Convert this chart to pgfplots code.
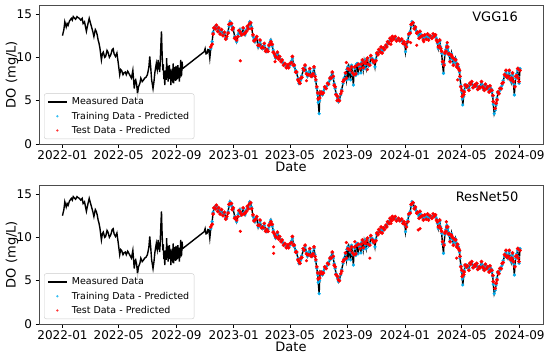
\documentclass[border=0pt]{standalone}
\usepackage{fontspec}
\setmainfont{DejaVu Sans}
\usepackage{pgfplots}
\pgfplotsset{compat=1.18}
\usepackage{pgfplotstable}

% days since 2022-01-01, DO (mg/L)
\pgfplotstableread{
d v
0 12.5
3 13.2
5 14.1
8 13.5
10 13.9
12 13.7
15 14.2
19 14.5
21 14.3
23 14.7
26 14.5
28 14.4
31 14.7
33 14.6
36 14.5
39 14.3
42 14.5
44 13.9
47 14.1
51 13.0
54 13.8
57 14.5
60 13.9
62 13.5
65 12.9
67 12.4
70 13.2
72 13.0
74 12.6
76 12.0
78 11.6
80 11.0
83 9.7
85 10.4
87 10.6
90 10.0
92 10.1
95 10.8
97 10.6
100 10.0
103 10.3
106 10.9
108 11.0
110 10.4
113 10.1
116 10.5
119 9.3
122 8.0
124 8.6
126 8.5
129 8.0
131 8.2
134 8.3
136 8.0
139 8.4
141 8.2
144 7.9
147 7.6
150 8.5
153 6.4
155 7.3
156 7.4
158 6.9
160 5.8
162 6.6
165 7.0
167 7.6
170 7.2
173 7.4
175 7.6
178 7.7
181 8.0
184 8.8
186 10.1
188 8.9
190 7.4
193 6.4
195 7.2
197 8.3
200 9.3
202 8.6
204 9.7
205 8.6
206 9.2
207 8.3
208 9.0
209 10.5
210 11.8
211 13.0
212 11.0
213 9.5
214 8.5
215 9.2
216 7.5
217 8.4
218 6.8
219 8.0
220 8.5
221 7.4
222 9.9
223 8.0
224 9.0
225 7.2
226 8.8
227 7.6
228 9.1
229 7.5
230 8.6
231 6.8
232 8.2
233 7.3
234 8.7
235 7.1
236 9.3
237 7.0
238 8.5
239 7.6
240 8.9
241 7.3
242 9.0
243 7.4
244 8.6
245 7.5
246 9.1
247 7.6
248 8.8
249 7.2
250 8.4
251 7.8
252 9.7
253 7.9
254 8.0
255 9.5
256 8.7
302 10.65
304 11.0
306 10.4
308 10.45
310 10.9
312 10.85
314 9.9
316 11.0
319 11.8
321 12.9
323 13.3
326 13.6
328 13.5
331 13.2
333 13.2
336 12.9
339 13.0
342 12.7
345 12.8
348 12.3
350 12.2
353 13.0
355 13.6
357 14.1
360 13.7
362 13.4
364 13.2
367 12.4
369 12.1
371 11.8
374 12.6
376 12.9
378 13.2
380 12.6
382 12.8
385 13.3
387 12.9
389 12.6
392 13.2
394 13.4
396 13.5
399 14.1
401 13.9
403 13.5
406 12.4
408 12.1
410 11.8
412 12.3
414 12.2
417 11.2
419 11.6
421 11.8
424 11.3
426 11.0
428 11.3
430 11.4
433 10.9
435 10.65
438 10.9
440 11.2
442 11.7
444 12.0
447 11.3
449 10.85
452 10.2
454 9.9
456 10.2
458 10.45
461 10.0
463 9.9
466 9.7
468 9.5
471 9.3
474 9.1
477 9.0
480 8.9
482 9.0
485 9.1
488 9.6
490 9.9
492 9.3
494 8.9
497 8.5
499 8.15
502 7.6
504 7.0
506 7.2
508 7.4
510 7.9
513 8.5
515 8.7
517 8.9
520 8.3
522 7.8
525 8.2
527 8.5
530 8.0
532 7.8
534 8.3
536 8.7
538 8.0
540 7.2
542 6.4
544 5.65
545 4.8
547 3.5
548 5.0
549 6.0
551 5.8
554 5.65
556 6.1
559 6.4
562 6.6
565 6.8
567 7.1
570 7.4
572 7.8
575 8.15
577 7.6
579 7.0
581 6.4
583 5.85
586 5.3
588 4.9
590 5.2
593 5.65
595 6.3
598 7.0
600 7.6
603 8.0
605 7.4
606 8.6
608 8.9
609 7.5
611 8.8
613 8.3
614 7.4
616 9.1
618 8.0
620 6.8
621 8.2
623 8.7
625 7.9
626 9.2
628 9.3
630 8.1
631 9.0
634 8.9
636 8.2
637 9.4
639 9.5
641 8.6
643 9.6
645 9.1
647 8.7
648 9.8
650 9.7
652 9.0
655 9.3
657 10.0
660 9.9
662 9.4
664 9.6
666 8.9
668 9.8
670 10.3
672 10.5
674 10.65
677 10.8
679 11.0
681 10.7
684 10.85
686 11.1
689 11.2
691 11.4
693 11.6
696 11.8
698 12.0
701 12.1
703 12.2
706 12.3
709 12.2
712 12.1
716 12.0
719 12.1
723 11.9
726 11.8
728 11.6
730 11.3
731 10.65
733 11.4
736 12.0
738 12.5
741 13.0
743 13.6
745 14.1
747 13.9
750 13.5
752 13.3
755 13.0
757 12.7
760 12.4
762 12.8
764 12.6
767 12.3
769 12.2
772 12.4
775 12.3
778 12.5
780 12.2
783 12.3
787 12.4
790 12.5
792 12.6
795 12.4
797 12.2
799 11.6
801 11.0
803 11.5
804 11.8
806 11.2
808 10.45
810 9.2
812 8.15
813 9.3
815 10.3
817 10.9
819 11.4
821 11.0
822 10.65
824 10.2
826 9.7
828 10.1
829 10.45
831 9.8
833 9.3
835 9.6
837 9.9
838 9.5
840 9.1
842 9.0
844 8.9
846 8.3
847 7.6
849 6.8
851 6.0
852 5.2
853 4.5
855 5.5
856 6.2
858 6.6
861 6.8
863 6.5
866 6.4
868 6.8
870 7.1
872 7.0
875 6.7
878 6.6
880 6.9
883 6.8
885 6.5
888 6.4
890 6.7
893 7.0
895 6.8
897 6.3
899 6.4
901 6.7
904 6.6
906 6.4
909 6.2
911 6.5
913 6.4
915 6.0
917 5.45
918 4.6
920 3.5
922 3.9
924 4.5
926 5.3
928 5.85
930 6.0
932 6.2
935 6.6
937 6.8
939 7.3
942 7.8
944 8.1
945 8.3
947 7.9
949 7.6
950 8.0
952 8.3
954 7.7
956 7.2
957 7.8
959 8.0
961 7.0
963 5.65
964 6.8
966 7.6
968 8.1
970 8.5
971 7.8
973 7.0
975 8.7
}\meas

% test-set predictions (shared shape)
\pgfplotstableread{
d v
316 11.2
319 11.5
321 12.7
323 13.4
326 13.3
328 13.7
331 13.0
333 13.4
336 12.7
339 13.2
342 12.5
345 12.9
348 12.1
350 12.4
353 12.8
355 13.8
357 13.9
360 13.9
362 13.2
364 13.4
367 12.2
369 12.3
371 12.0
374 12.4
376 13.1
378 13.0
380 12.8
382 12.6
385 13.4
387 12.7
389 12.8
392 13.0
394 13.6
396 13.3
399 13.9
401 14.0
403 13.3
406 12.6
408 11.9
410 12.0
412 12.1
414 12.4
417 11.4
419 11.4
421 12.0
424 11.1
426 11.2
428 11.1
430 11.6
433 10.7
435 10.9
438 10.7
440 11.4
442 11.5
444 11.8
447 11.5
449 10.6
452 10.4
454 10.1
456 10.0
458 10.6
461 9.8
463 10.1
466 9.5
468 9.7
471 9.1
474 9.3
477 8.8
480 9.1
482 8.8
485 9.3
488 9.4
490 10.1
492 9.1
494 9.1
497 8.3
499 8.3
502 7.4
504 7.2
506 7.0
508 7.6
510 7.7
513 8.7
515 8.5
517 9.1
520 8.1
522 8.0
525 8.0
527 8.7
530 7.8
532 8.0
534 8.1
536 8.9
538 7.8
540 7.4
542 6.6
544 5.9
545 5.2
548 5.3
549 5.8
551 6.0
554 5.8
556 5.9
559 6.6
562 6.4
565 7.0
567 6.9
570 7.6
572 7.6
575 8.3
577 7.8
579 6.8
581 6.6
583 5.7
586 5.5
588 5.1
590 5.0
593 5.8
595 6.1
598 7.2
600 7.4
603 8.2
605 7.6
608 8.7
611 8.6
613 8.5
616 8.9
618 8.2
621 8.0
623 8.9
625 8.1
628 9.1
631 9.2
634 8.7
637 9.2
639 9.7
641 8.8
643 9.4
645 9.3
648 9.6
650 9.9
652 9.2
655 9.1
657 10.2
660 9.7
662 9.6
664 9.4
668 9.6
670 10.5
672 10.3
674 10.9
677 10.6
679 11.2
681 10.5
684 11.1
686 10.9
689 11.4
691 11.2
693 11.8
696 11.6
698 12.2
701 11.9
703 12.4
706 12.1
709 12.4
712 11.9
716 12.2
719 11.9
723 12.1
726 11.6
728 11.8
730 11.5
733 11.2
736 11.8
738 12.7
741 12.8
743 13.8
745 13.9
747 14.0
750 13.3
752 13.5
755 12.8
757 12.9
760 12.2
762 13.0
764 12.4
767 12.5
769 12.0
772 12.6
775 12.1
778 12.7
780 12.0
783 12.5
787 12.2
790 12.7
792 12.4
795 12.6
797 12.0
799 11.8
801 11.2
803 11.3
804 12.0
806 11.0
808 10.7
810 9.5
813 9.1
815 10.5
817 10.7
819 11.2
821 11.2
822 10.4
824 10.4
826 9.5
828 10.3
829 10.2
831 10.0
833 9.1
835 9.8
837 9.7
838 9.7
840 8.9
842 9.2
844 8.7
846 8.5
847 7.8
849 6.6
851 6.2
852 5.5
855 5.7
856 6.0
858 6.8
861 6.6
863 6.7
866 6.2
868 7.0
870 6.9
872 7.2
875 6.5
878 6.8
880 6.7
883 7.0
885 6.3
888 6.6
890 6.5
893 7.2
895 6.6
897 6.5
899 6.2
901 6.9
904 6.4
906 6.6
909 6.0
911 6.7
913 6.2
915 6.2
917 5.6
918 4.9
922 4.1
924 4.7
926 5.1
928 6.0
930 5.8
932 6.4
935 6.4
937 7.0
939 7.1
942 8.0
944 7.9
945 8.5
947 7.7
949 7.8
950 7.8
952 8.5
954 7.5
956 7.4
957 7.6
959 8.2
961 7.2
964 6.6
966 7.8
968 7.9
970 8.7
971 7.6
973 7.2
975 8.5
}\test

\pgfplotstableread{
d v
379 9.6
453 9.5
520 7.3
585 5.0
605 9.4
650 8.6
700 11.5
742 11.7
755 11.4
770 11.8
812 9.5
820 11.7
842 7.4
}\outA

\pgfplotstableread{
d v
379 10.7
450 8.9
450 8.15
520 7.3
605 9.4
623 9.5
655 7.6
700 11.6
758 10.85
762 11.0
818 11.8
840 7.6
}\outB

\pgfplotsset{
  lgline/.style={legend image code/.code={\draw[black, line width=1.3pt] (0pt,0pt) -- (19pt,0pt); \path[draw=none,fill=none] (0pt,0pt) -- (22pt,0pt);}},
  lgcyan/.style={legend image code/.code={\fill[cyan, draw=none] (9.5pt,0pt) circle (1.3pt); \path[draw=none,fill=none] (0pt,0pt) -- (22pt,0pt);}},
  lgred/.style={legend image code/.code={\fill[red, draw=none] (9.5pt,0pt) circle (1.3pt); \path[draw=none,fill=none] (0pt,0pt) -- (22pt,0pt);}},
  panel/.style={
  width=504pt, height=139pt, scale only axis,
  xmin=-50, xmax=1024, ymin=0, ymax=16.04,
  xtick={0,120,243,365,485,608,730,851,974},
  xticklabels={2022-01,2022-05,2022-09,2023-01,2023-05,2023-09,2024-01,2024-05,2024-09},
  ytick={0,5,10,15},
  tick pos=left, tick align=outside, major tick length=3.5pt,
  tick style={black, line width=0.8pt},
  axis line style={black!70, line width=0.8pt},
  ticklabel style={font=\fontsize{12}{13}\selectfont},
  /pgf/number format/assume math mode=true,
  xlabel=Date, ylabel={DO (mg/L)},
  label style={font=\fontsize{13}{14}\selectfont},
  xlabel style={at={(axis description cs:0.5,-0.165)}, anchor=center},
  ylabel style={at={(axis description cs:-0.0536,0.5)}, anchor=center},
  legend cell align=left,
  legend style={at={(axis description cs:0.01,0.036)}, anchor=south west,
    font=\fontsize{9.5}{11}\selectfont, draw=black!20, rounded corners=2pt,
    fill=white, fill opacity=0.8, text opacity=1, row sep=1.5pt,
    inner xsep=3pt, inner ysep=2pt},
}}

\begin{document}
\begin{tikzpicture}
\begin{axis}[panel, name=top, at={(0,0)}, anchor=north west]
\addlegendimage{lgline}
\addlegendentry{Measured Data}
\addlegendimage{lgcyan}
\addlegendentry{Training Data - Predicted}
\addlegendimage{lgred}
\addlegendentry{Test Data - Predicted}
\addplot[only marks, mark=*, mark size=1.4pt, cyan, restrict x to domain=316:1000, forget plot] table[x=d,y=v]{\meas};
\addplot[only marks, mark=*, mark size=1.7pt, red, forget plot] table[x=d,y=v]{\test};
\addplot[only marks, mark=*, mark size=1.4pt, red, forget plot] table[x=d,y=v]{\outA};
\addplot[black, line width=1.4pt, forget plot] table[x=d,y=v]{\meas};
\node[font=\fontsize{13}{14}\selectfont] at (rel axis cs:0.905,0.914) {VGG16};
\end{axis}
\begin{axis}[panel, name=bot, at={(0,-180pt)}, anchor=north west]
\addlegendimage{lgline}
\addlegendentry{Measured Data}
\addlegendimage{lgcyan}
\addlegendentry{Training Data - Predicted}
\addlegendimage{lgred}
\addlegendentry{Test Data - Predicted}
\addplot[only marks, mark=*, mark size=1.4pt, cyan, restrict x to domain=316:1000, forget plot] table[x=d,y=v]{\meas};
\addplot[only marks, mark=*, mark size=1.7pt, red, forget plot] table[x=d,y=v]{\test};
\addplot[only marks, mark=*, mark size=1.4pt, red, forget plot] table[x=d,y=v]{\outB};
\addplot[black, line width=1.4pt, forget plot] table[x=d,y=v]{\meas};
\node[font=\fontsize{13}{14}\selectfont] at (rel axis cs:0.889,0.914) {ResNet50};
\end{axis}
\pgfresetboundingbox
\path ([xshift=-39pt,yshift=5pt]top.north west) rectangle ([xshift=7pt,yshift=-33pt]bot.south east);
\end{tikzpicture}
\end{document}
